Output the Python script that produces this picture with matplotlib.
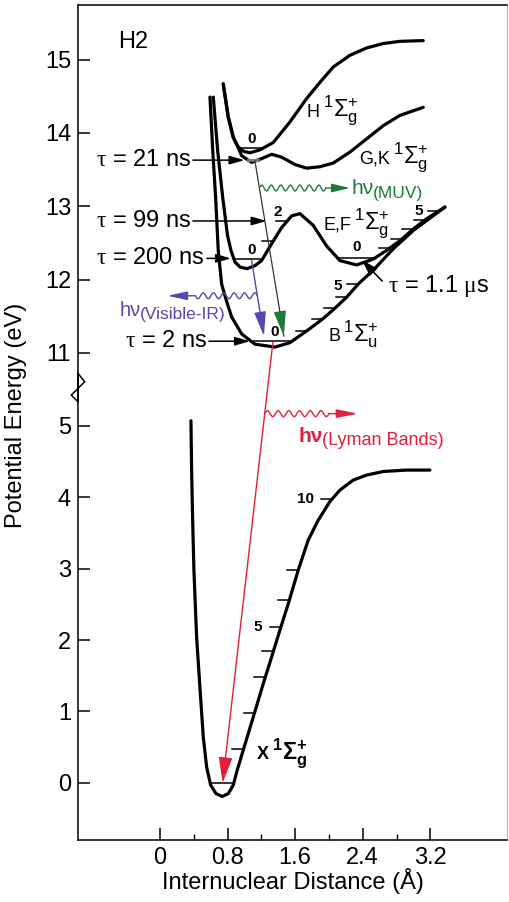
import numpy as np
import matplotlib
matplotlib.use("Agg")
import matplotlib.pyplot as plt

plt.rcParams["font.family"] = ["Liberation Sans", "DejaVu Sans"]
plt.rcParams["mathtext.fontset"] = "custom"
plt.rcParams["mathtext.rm"] = "Liberation Sans"
plt.rcParams["mathtext.it"] = "Liberation Sans:italic"
plt.rcParams["mathtext.bf"] = "Liberation Sans:bold"
plt.rcParams["mathtext.sf"] = "Liberation Serif"

# potential energy curves, R in Angstrom, E in eV
X_R = [0.367, 0.375, 0.387, 0.402, 0.434, 0.473, 0.513, 0.553, 0.600, 0.663, 0.737,
       0.809, 0.868, 0.915, 0.986, 1.104, 1.223, 1.321, 1.420, 1.519, 1.637, 1.755,
       1.874, 2.012, 2.130, 2.288, 2.446, 2.643, 2.919, 3.195]
X_E = [5.07, 4.38, 3.68, 2.98, 2.04, 1.34, 0.64, 0.22, -0.03, -0.15, -0.19,
       -0.15, -0.03, 0.18, 0.46, 0.92, 1.39, 1.76, 2.14, 2.51, 2.98, 3.40,
       3.68, 3.94, 4.10, 4.24, 4.31, 4.36, 4.38, 4.38]

B_R = [0.592, 0.625, 0.660, 0.690, 0.730, 0.790, 0.849, 0.967, 1.124, 1.361, 1.538,
       1.736, 1.933, 2.071, 2.209, 2.347, 2.525, 2.761, 2.998, 3.373]
B_E = [14.49, 13.76, 13.10, 12.40, 11.94, 11.70, 11.49, 11.26, 11.12, 11.08, 11.14,
       11.30, 11.47, 11.61, 11.76, 11.94, 12.13, 12.42, 12.67, 12.99]

EF_R = [0.631, 0.683, 0.745, 0.800, 0.840, 0.888, 0.950, 1.030, 1.124, 1.203, 1.322,
        1.440, 1.559, 1.657, 1.814, 1.972, 2.130, 2.327, 2.525, 2.683, 2.840, 2.998,
        3.156, 3.373]
EF_E = [14.49, 13.76, 13.10, 12.60, 12.40, 12.24, 12.17, 12.15, 12.19, 12.26, 12.49,
        12.71, 12.87, 12.90, 12.74, 12.46, 12.26, 12.20, 12.28, 12.40, 12.53, 12.69,
        12.83, 12.99]

GK_R = [0.749, 0.808, 0.868, 0.926, 0.967, 1.085, 1.203, 1.322, 1.440, 1.598, 1.736,
        1.893, 2.051, 2.249, 2.446, 2.643, 2.840, 3.116]
GK_E = [14.67, 14.22, 13.94, 13.80, 13.69, 13.60, 13.65, 13.71, 13.67, 13.57, 13.52,
        13.54, 13.59, 13.74, 13.92, 14.10, 14.24, 14.35]

H_R = [0.749, 0.808, 0.868, 0.926, 0.990, 1.065, 1.183, 1.341, 1.538, 1.736, 1.893,
       2.051, 2.249, 2.446, 2.643, 2.840, 3.116]
H_E = [14.67, 14.22, 13.94, 13.81, 13.75, 13.73, 13.77, 13.87, 14.15, 14.47, 14.69,
       14.90, 15.06, 15.16, 15.22, 15.25, 15.26]

# vibrational levels (eV)
X_V0 = 0.0
X_LEVELS = [0.47, 0.98, 1.48, 1.84, 2.18, 2.56, 2.98, 3.98]
B_V0 = 11.16
B_LEVELS = [11.30, 11.47, 11.61, 11.76, 11.94]
EF_IN_V0 = 12.28
EF_IN_LEVELS = [12.53, 12.80]
EF_OUT_V0 = 12.30
EF_OUT_LEVELS = [12.43, 12.56, 12.69, 12.81, 12.94]
GK_V0 = 13.63
H_V0 = 13.79

# vibrational quantum number tags
TAG_TEXT = ["0", "0", "2", "0", "5", "0", "5", "5", "10"]
TAG_R = [1.085, 1.085, 1.40, 2.327, 3.057, 1.361, 2.107, 1.160, 1.725]
TAG_E = [13.92, 12.40, 12.92, 12.44, 12.94, 11.28, 11.92, 2.18, 3.98]

# state names
STATE_PREFIX = ["H", "G,K", "E,F", "B", "X"]
STATE_SYMBOL = [r"$^{1}\Sigma_{\mathrm{g}}^{+}$", r"$^{1}\Sigma_{\mathrm{g}}^{+}$",
                r"$^{1}\Sigma_{\mathrm{g}}^{+}$", r"$^{1}\Sigma_{\mathrm{u}}^{+}$",
                r"$^{\mathbf{1}}\mathbf{\Sigma}_{\mathbf{g}}^{\mathbf{+}}$"]
SYMBOL_R = [1.929, 2.761, 2.296, 2.166, 1.321]
STATE_E = [14.22, 13.58, 12.69, 11.16, 0.33]
STATE_BOLD = [False, False, False, False, True]

# radiative lifetimes
TAU_TEXT = [r"$\mathsf{\tau}$ = 21 ns", r"$\mathsf{\tau}$ = 99 ns",
            r"$\mathsf{\tau}$ = 200 ns", r"$\mathsf{\tau}$ = 2 ns"]
TAU_E = [13.63, 12.80, 12.29, 11.16]
TAU_TAIL_R = [0.39, 0.39, 0.556, 0.58]
TAU_TIP_R = [1.00, 1.262, 0.84, 1.065]
TAU_OUT_TEXT = r"$\mathsf{\tau}$ = 1.1 $\mathsf{\mu}$s"
TAU_OUT_TEXT_POS = (2.70, 11.92)
TAU_OUT_TAIL = (2.631, 11.98)
TAU_OUT_TIP = (2.387, 12.27)

# transitions: (R, E) start and arrow tip
MUV_FROM, MUV_TO = (1.124, 13.62), (1.467, 11.23)
VIS_FROM, VIS_TO = (1.085, 12.26), (1.231, 11.23)
LYM_FROM, LYM_TO = (1.337, 11.15), (0.742, 0.0)
MUV_E, MUV_WAVE_END, MUV_TIP = 13.25, 1.965, 2.249
VIS_E, VIS_WAVE_END, VIS_TIP = 11.78, 0.42, 0.09
LYM_E, LYM_WAVE_END, LYM_TIP = 5.17, 2.0, 2.343

GREEN = "#1f7a3a"
BLUE = "#5548a8"
RED = "#e0203c"

X_TICKS = [0, 0.8, 1.6, 2.4, 3.2]
X_TICK_LABELS = ["0", "0.8", "1.6", "2.4", "3.2"]
X_MINOR = [0.4, 1.2, 2.0, 2.8]
Y_TICKS = [0, 1, 2, 3, 4, 5, 11, 12, 13, 14, 15]


# broken energy axis: 5.6 -> 10.6 eV squeezed to almost nothing
_E_PTS = [-50.0, 5.6, 10.6, 60.0]
_F_PTS = [-50.0, 5.6, 5.609, 6.02 + 1.0266 * 49.0]


def fwd(e):
    return np.interp(e, _E_PTS, _F_PTS)


def inv(f):
    return np.interp(f, _F_PTS, _E_PTS)


def crossings(r, e, level, lo, hi):
    r = np.asarray(r, float)
    d = np.asarray(e, float) - level
    out = []
    for i in range(len(r) - 1):
        if d[i] * d[i + 1] <= 0 and d[i] != d[i + 1]:
            t = d[i] / (d[i] - d[i + 1])
            out.append(r[i] + t * (r[i + 1] - r[i]))
    out = np.array(out)
    return out[(out >= lo) & (out <= hi)]


def along(p0, p1, e):
    # R on the straight line p0-p1 (straight in display space) at energy e
    f0, f1, f = fwd(p0[1]), fwd(p1[1]), fwd(e)
    t = (f - f0) / (f1 - f0)
    return p0[0] + t * (p1[0] - p0[0])


def squiggle(ax, r0, r1, e, n, amp, color):
    t = np.linspace(0, 1, 300)
    ax.plot(r0 + (r1 - r0) * t, e + amp * np.sin(2 * np.pi * n * t),
            color=color, lw=1.0)


def arrow(ax, tail, tip, color, hl, hw, lw=1.0):
    ax.annotate("", xy=tip, xytext=tail,
                arrowprops=dict(arrowstyle=f"-|>,head_length={hl},head_width={hw}",
                                color=color, lw=lw, shrinkA=0, shrinkB=0,
                                mutation_scale=10))


fig = plt.figure(figsize=(5.09, 9.02), dpi=100)
ax = fig.add_axes([0.1532, 0.0687, 0.8428, 0.9257])
ax.set_yscale("function", functions=(fwd, inv))
ax.set_xlim(-0.97, 4.107)
ax.set_ylim(-0.8, 15.745)

curve_kw = dict(color="black", lw=2.3, solid_capstyle="round", solid_joinstyle="round")
for r, e in [(X_R, X_E), (B_R, B_E), (EF_R, EF_E), (GK_R, GK_E), (H_R, H_E)]:
    ax.plot(r, e, **curve_kw)

lev_kw = dict(color="black", lw=1.1)
tick_len = 0.13


def full_level(r, e, level, lo, hi, **kw):
    x = crossings(r, e, level, lo, hi)
    ax.plot([x.min(), x.max()], [level, level], **{**lev_kw, **kw})


def wall_ticks(r, e, levels, lo, hi):
    for lv in levels:
        x = crossings(r, e, lv, lo, hi).max()
        ax.plot([x - tick_len, x], [lv, lv], **lev_kw)


full_level(X_R, X_E, X_V0, 0.5, 1.0)
wall_ticks(X_R, X_E, X_LEVELS, 0.74, 3.3)
full_level(B_R, B_E, B_V0, 0.9, 1.8)
wall_ticks(B_R, B_E, B_LEVELS, 1.36, 3.4)
full_level(EF_R, EF_E, EF_IN_V0, 0.8, 1.3)
wall_ticks(EF_R, EF_E, EF_IN_LEVELS, 1.0, 1.65)
full_level(EF_R, EF_E, EF_OUT_V0, 1.9, 2.7)
wall_ticks(EF_R, EF_E, EF_OUT_LEVELS, 2.33, 3.4)
full_level(GK_R, GK_E, GK_V0, 0.95, 1.25, color="#777777", lw=2.2)
full_level(H_R, H_E, H_V0, 0.9, 1.3)

for s, r, e in zip(TAG_TEXT, TAG_R, TAG_E):
    ax.text(r, e, s, fontsize=11, fontweight="bold", ha="center", va="center")

for pre, sym, rs, e, bold in zip(STATE_PREFIX, STATE_SYMBOL, SYMBOL_R,
                                 STATE_E, STATE_BOLD):
    ax.text(rs - 0.035, e, pre, fontsize=13, ha="right", va="baseline",
            fontweight="bold" if bold else "normal")
    ax.text(rs, e, sym, fontsize=17, ha="left", va="baseline")

ax.text(-0.497, 15.24, "H2", fontsize=17, ha="left", va="center")

# lifetimes
for txt, e, r0, r1 in zip(TAU_TEXT, TAU_E, TAU_TAIL_R, TAU_TIP_R):
    ax.text(r0 - 0.025, e, txt, fontsize=17, ha="right", va="center")
    arrow(ax, (r0, e), (r1, e), "black", 0.9, 0.26, lw=1.1)
ax.text(*TAU_OUT_TEXT_POS, TAU_OUT_TEXT, fontsize=17, ha="left", va="center")
arrow(ax, TAU_OUT_TAIL, TAU_OUT_TIP, "black", 1.0, 0.3, lw=1.1)

# G,K -> B emission (MUV)
ax.plot([MUV_FROM[0], MUV_TO[0]], [MUV_FROM[1], MUV_TO[1]], color="#333333", lw=0.9)
arrow(ax, (along(MUV_FROM, MUV_TO, MUV_TO[1] + 0.33), MUV_TO[1] + 0.33), MUV_TO,
      GREEN, 1.55, 0.38)
r_start = along(MUV_FROM, MUV_TO, MUV_E)
squiggle(ax, r_start, MUV_WAVE_END, MUV_E, 7, 0.04, GREEN)
arrow(ax, (MUV_WAVE_END, MUV_E), (MUV_TIP, MUV_E), GREEN, 1.1, 0.26)
ax.text(2.272, 13.17, "hν", fontsize=15, color=GREEN, ha="left", va="baseline")
ax.text(2.52, 13.12, "(MUV)", fontsize=12.5, color=GREEN, ha="left", va="baseline")

# E,F -> B emission (visible-IR)
arrow(ax, VIS_FROM, VIS_TO, BLUE, 1.5, 0.36)
r_start = along(VIS_FROM, VIS_TO, VIS_E)
squiggle(ax, r_start, VIS_WAVE_END, VIS_E, 6, 0.04, BLUE)
arrow(ax, (VIS_WAVE_END, VIS_E), (VIS_TIP, VIS_E), BLUE, 1.2, 0.26)
ax.text(-0.473, 11.51, "hν", fontsize=14.5, color=BLUE, ha="left", va="baseline")
ax.text(-0.237, 11.46, "(Visible-IR)", fontsize=12.5, color=BLUE, ha="left",
        va="baseline")

# B -> X emission (Lyman bands)
arrow(ax, LYM_FROM, LYM_TO, RED, 1.6, 0.43)
r_start = along(LYM_FROM, LYM_TO, LYM_E)
squiggle(ax, r_start, LYM_WAVE_END, LYM_E, 6, 0.042, RED)
arrow(ax, (LYM_WAVE_END, LYM_E), (LYM_TIP, LYM_E), RED, 1.3, 0.26)
ax.text(1.637, 4.78, "hν", fontsize=15, fontweight="bold", color=RED, ha="left",
        va="baseline")
ax.text(1.913, 4.73, "(Lyman Bands)", fontsize=13, color=RED, ha="left",
        va="baseline")

# axes
ax.set_xticks(X_TICKS)
ax.set_xticklabels(X_TICK_LABELS)
ax.set_xticks(X_MINOR, minor=True)
ax.set_yticks(Y_TICKS)
ax.set_yticklabels([str(v) for v in Y_TICKS])
ax.tick_params(axis="both", which="major", direction="in", labelsize=17,
               width=1.1, length=8.8, pad=5)
ax.tick_params(axis="x", which="minor", direction="in", width=1.0, length=4.5)
ax.tick_params(axis="y", which="minor", length=0)

ax.set_xlabel("Internuclear Distance (Å)", fontsize=17)
ax.xaxis.set_label_coords(0.5, -0.034)
ax.set_ylabel("Potential Energy (eV)", fontsize=17)
ax.yaxis.set_label_coords(-0.119, 0.508)

for side in ["bottom", "top"]:
    ax.spines[side].set_linewidth(1.1)
ax.spines["right"].set_color("#bbbbbb")
ax.spines["right"].set_linewidth(0.8)
ax.spines["left"].set_visible(False)
# left spine with the zig-zag break
ax.plot([0, 0, 0.0156, -0.0155, 0, 0], [0, 0.5589, 0.5489, 0.5329, 0.5249, 1],
        transform=ax.transAxes, color="black", lw=1.1, clip_on=False,
        solid_joinstyle="miter")

fig.savefig("out.png", dpi=100)
